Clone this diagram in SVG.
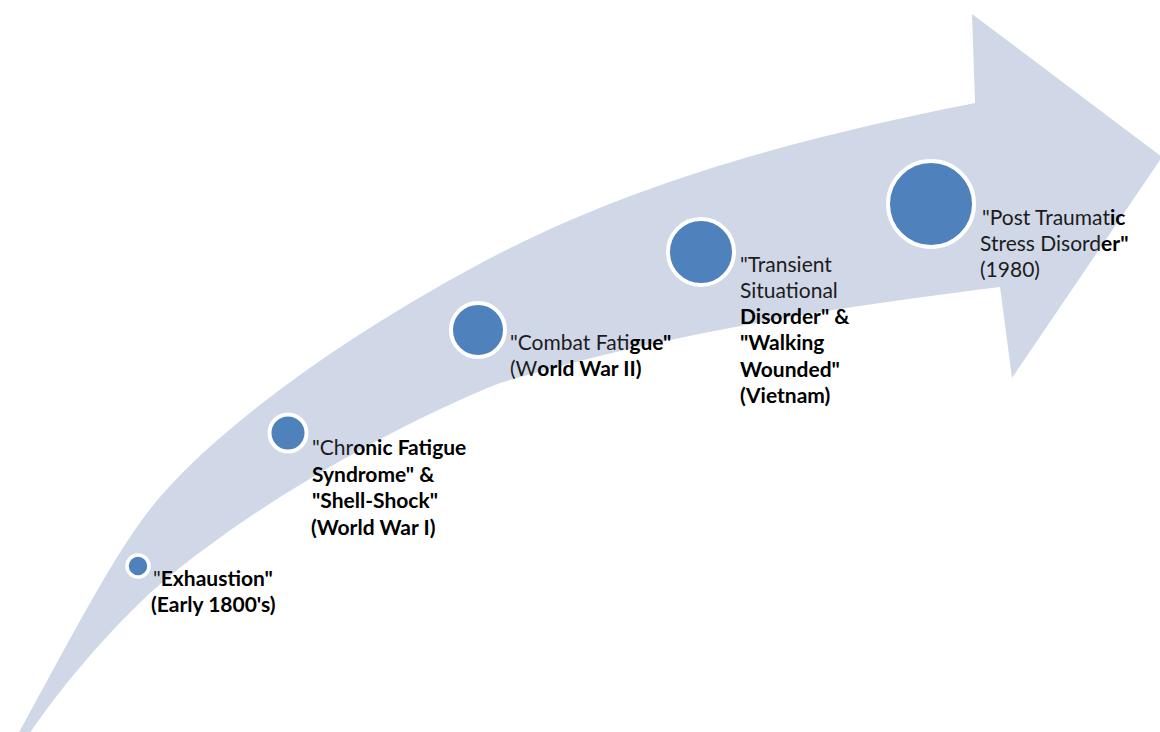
<svg xmlns="http://www.w3.org/2000/svg" width="1160" height="732" viewBox="0 0 1160 732">
<style>
.band{fill:#D0D8E8;stroke:none}
.dot{fill:#4F81BD;stroke:#FFFFFF;stroke-width:4}
.lbl{font-family:Lato,"Open Sans","Liberation Sans",sans-serif;font-size:21px;fill:#1C1C1C}
.b{font-weight:bold;fill:#000000}
</style>
<rect width="1160" height="732" fill="#FFFFFF"/>
<g id="connectors">
<path class="band" d="M12 745 C65 650 116 547 160 497 C238 407 383 315 483 262 C643 177 815 135 975 103 L972 14 L1162 157 L1012 378 L1000 287 C830 308 660 335 500 383 C390 427 255 505 165 580 C115 622 53 696 22 745 Z"/>
</g>
<g id="node-exhaustion">
<circle class="dot" cx="138" cy="566" r="11" style="stroke-width:3.5"/>
<text class="lbl" x="153" y="586">"<tspan class="b">Exhaustion"</tspan><tspan class="b" x="151" y="612">(Early 1800's)</tspan></text>
</g>
<g id="node-chronic">
<circle class="dot" cx="288" cy="433" r="18.5"/>
<text class="lbl" x="312" y="455">"Chr<tspan class="b">onic Fatigue</tspan><tspan class="b" x="312" y="482">Syndrome" &amp;</tspan><tspan class="b" x="312" y="508">"Shell-Shock"</tspan><tspan class="b" x="311" y="535">(World War I)</tspan></text>
</g>
<g id="node-combat">
<circle class="dot" cx="478" cy="330" r="27"/>
<text class="lbl" x="510" y="350">"Combat Fati<tspan class="b">gue"</tspan><tspan x="510" y="376">(W</tspan><tspan class="b">orld War II)</tspan></text>
</g>
<g id="node-transient">
<circle class="dot" cx="701" cy="252" r="33"/>
<text class="lbl" x="740" y="272">"Transient<tspan x="740" y="298">Situational</tspan><tspan class="b" x="740" y="324">Disorder" &amp;</tspan><tspan class="b" x="740" y="350">"Walking</tspan><tspan class="b" x="740" y="377">Wounded"</tspan><tspan class="b" x="740" y="403">(Vietnam)</tspan></text>
</g>
<g id="node-ptsd">
<circle class="dot" cx="931" cy="204" r="43"/>
<text class="lbl" x="982" y="225">"Post Traumat<tspan class="b">ic</tspan><tspan x="980" y="251">Stress Disord</tspan><tspan class="b">er"</tspan><tspan x="980" y="277">(1980)</tspan></text>
</g>
</svg>
